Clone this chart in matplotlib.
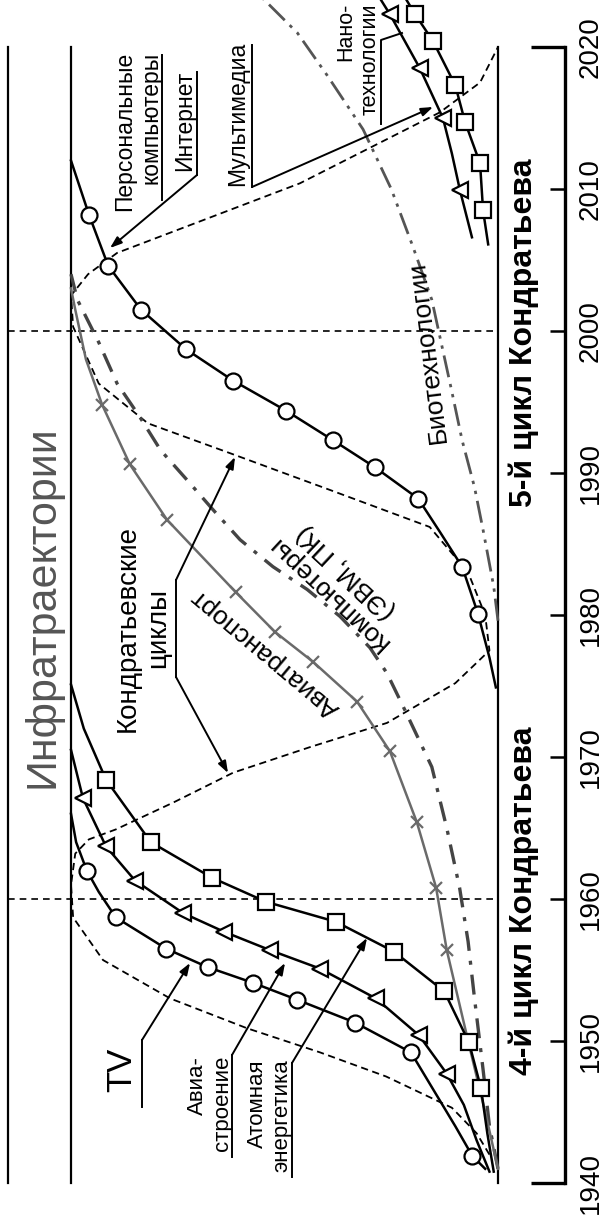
import matplotlib
matplotlib.use("Agg")
import matplotlib.pyplot as plt
from matplotlib import font_manager as fm

_names = {f.name for f in fm.fontManager.ttflist}
HAS_NARROW = 'Liberation Sans Narrow' in _names
plt.rcParams['font.family'] = ['Liberation Sans', 'DejaVu Sans']

# ---------------- data (year, level 0..1) ----------------
tick_years = [1940, 1950, 1960, 1970, 1980, 1990, 2000, 2010, 2020]
cycle_bounds = [1960, 2000]

tv_years = [1941.0, 1941.9, 1944.0, 1945.8, 1949.2, 1951.3, 1952.9, 1954.1, 1955.2, 1956.5, 1958.7, 1960.5, 1962.0, 1964.0, 1966.0]
tv_vals  = [0.03, 0.06, 0.10, 0.136, 0.204, 0.335, 0.47, 0.574, 0.68, 0.777, 0.895, 0.935, 0.963, 0.988, 1.0]
tv_marks = [1, 4, 5, 6, 7, 8, 9, 10, 12]

avia_years = [1940.8, 1943.0, 1945.5, 1947.7, 1950.4, 1953.0, 1955.1, 1956.4, 1957.7, 1959.0, 1961.3, 1963.7, 1967.1, 1970.5]
avia_vals  = [0.02, 0.05, 0.08, 0.12, 0.185, 0.286, 0.417, 0.534, 0.642, 0.737, 0.85, 0.918, 0.972, 1.0]
avia_marks = [3, 4, 5, 6, 7, 8, 9, 10, 11, 12]

atom_years = [1940.8, 1943.5, 1946.7, 1949.9, 1953.5, 1956.3, 1958.4, 1959.8, 1961.5, 1964.0, 1968.4, 1972.0, 1975.1]
atom_vals  = [0.01, 0.025, 0.04, 0.068, 0.126, 0.244, 0.38, 0.543, 0.67, 0.813, 0.918, 0.97, 1.0]
atom_marks = [2, 3, 4, 5, 6, 7, 8, 9, 10]

pk_years = [1974.9, 1977.0, 1980.1, 1983.4, 1985.8, 1988.2, 1990.4, 1992.3, 1994.4, 1996.5, 1998.7, 2001.5, 2004.6, 2008.2, 2012.0]
pk_vals  = [0.005, 0.02, 0.047, 0.084, 0.135, 0.187, 0.288, 0.386, 0.497, 0.62, 0.73, 0.836, 0.913, 0.958, 1.0]
pk_marks = [2, 3, 5, 6, 7, 8, 9, 10, 11, 12, 13]

kond_years = [1942.0, 1943.5, 1945.3, 1947.5, 1949.2, 1950.9, 1953.0, 1955.7, 1958.7, 1961.0, 1963.2, 1964.2, 1964.9,
              1966.8, 1968.9, 1970.7, 1972.4, 1975.2, 1977.5, 1980.0, 1983.0, 1986.2, 1988.8, 1991.4, 1993.5,
              1996.3, 2000.3, 2002.5, 2004.0, 2005.5, 2010.4, 2015.4, 2017.5, 2020.0]
kond_vals  = [0.02, 0.05, 0.108, 0.262, 0.417, 0.588, 0.768, 0.925, 0.995, 1.0, 0.99, 0.958, 0.895,
              0.76, 0.62, 0.44, 0.26, 0.10, 0.02, 0.03, 0.07, 0.16, 0.393, 0.628, 0.82,
              0.935, 0.995, 1.0, 0.96, 0.892, 0.464, 0.136, 0.042, 0.0]

airtr_years = [1941.0, 1945.0, 1950.0, 1956.4, 1960.8, 1965.4, 1970.4, 1973.9, 1976.7, 1978.8, 1981.6, 1986.7, 1990.6, 1994.8, 1998.0, 2001.5, 2003.0]
airtr_vals  = [0.0, 0.03, 0.07, 0.12, 0.145, 0.19, 0.253, 0.33, 0.433, 0.522, 0.614, 0.775, 0.862, 0.927, 0.965, 0.99, 1.0]
airtr_marks = [3, 4, 5, 6, 7, 8, 9, 10, 11, 12, 13]

comp_years = [1941.0, 1944.0, 1948.0, 1953.0, 1957.0, 1960.8, 1965.0, 1969.3, 1973.3, 1975.9, 1977.7, 1979.9,
              1981.8, 1983.4, 1985.3, 1987.5, 1989.5, 1991.6, 1994.0, 1996.3, 1999.2, 2002.2, 2004.0]
comp_vals  = [0.0, 0.02, 0.035, 0.055, 0.07, 0.09, 0.12, 0.155, 0.218, 0.26, 0.30, 0.37,
              0.447, 0.527, 0.604, 0.67, 0.728, 0.79, 0.84, 0.892, 0.935, 0.985, 1.0]

bio_years = [1979.6, 1982.0, 1986.0, 1989.0, 1992.3, 1996.0, 2002.2, 2006.0, 2010.0, 2014.2, 2018.0, 2021.0, 2023.4]
bio_vals  = [0.0, 0.01, 0.035, 0.055, 0.084, 0.11, 0.155, 0.20, 0.25, 0.316, 0.40, 0.47, 0.55]

nanoT_years = [2006.6, 2009.9, 2012.5, 2015.0, 2018.5, 2022.3, 2023.6]
nanoT_vals  = [0.061, 0.089, 0.108, 0.129, 0.183, 0.253, 0.28]
nanoT_marks = [1, 3, 4, 5]

nanoS_years = [2006.1, 2008.5, 2011.8, 2014.7, 2017.3, 2020.4, 2022.3, 2023.6]
nanoS_vals  = [0.023, 0.035, 0.042, 0.077, 0.10, 0.152, 0.194, 0.22]
nanoS_marks = [1, 2, 3, 4, 5, 6]

# ---------------- layout helpers (pixel -> data) ----------------
def vx(px):
    return (498.0 - px) / 427.0

def yr(py):
    return 1940.0 + (1183.0 - py) / 14.2

def P(px, py):
    return (vx(px), yr(py))

fig = plt.figure(figsize=(6.05, 12.2), dpi=100)
ax = fig.add_axes([0, 0, 1, 1])
ax.set_xlim(vx(0), vx(605))
ax.set_ylim(yr(1220), yr(0))
for s in ['left', 'top', 'bottom']:
    ax.spines[s].set_visible(False)
ax.set_xticks([])

# year axis on the right
ax.spines['right'].set_position(('data', vx(565)))
ax.spines['right'].set_bounds(tick_years[0], tick_years[-1])
ax.spines['right'].set_linewidth(2.4)
ax.yaxis.set_ticks_position('right')
ax.set_yticks(tick_years)
ax.tick_params(axis='y', direction='in', length=11, width=1.8, labelsize=20, pad=9)
for lab in ax.get_yticklabels():
    lab.set_rotation(90)
    lab.set_va('center')
    lab.set_ha('left')
for ty in (tick_years[0], tick_years[-1]):
    ax.plot([vx(531), vx(565)], [ty, ty], color='k', lw=2.4, solid_capstyle='butt')

# frame lines
top, bot = tick_years[-1], tick_years[0]
for px in (8, 71, 498):
    ax.plot([vx(px), vx(px)], [bot, top], color='k', lw=1.6)
for cy in cycle_bounds:
    ax.plot([vx(8), vx(498)], [cy, cy], color='k', lw=1.2, ls=(0, (4, 3)))

# ---------------- curves ----------------
ax.plot(kond_vals, kond_years, color='k', lw=1.3, ls=(0, (4, 2.5)), zorder=3)
ax.plot(bio_vals, bio_years, color='#555555', lw=2.0, ls=(0, (8, 2.5, 1.2, 2.5, 1.2, 2.5)), zorder=3)
ax.plot(comp_vals, comp_years, color='#444444', lw=2.4, ls=(0, (6, 3, 1.2, 3)), zorder=3)
ax.plot(airtr_vals, airtr_years, color='#6a6a6a', lw=1.8, marker='x', ms=9, mew=1.6,
        markevery=airtr_marks, zorder=4)

mk = dict(color='k', lw=1.8, mfc='white', mec='k', mew=1.6, zorder=5)
ax.plot(tv_vals, tv_years, marker='o', ms=11.5, markevery=tv_marks, **mk)
ax.plot(avia_vals, avia_years, marker='<', ms=12, markevery=avia_marks, **mk)
ax.plot(atom_vals, atom_years, marker='s', ms=11, markevery=atom_marks, **mk)
ax.plot(pk_vals, pk_years, marker='o', ms=11.5, markevery=pk_marks, **mk)
ax.plot(nanoT_vals, nanoT_years, marker='<', ms=12, markevery=nanoT_marks, **mk)
ax.plot(nanoS_vals, nanoS_years, marker='s', ms=11, markevery=nanoS_marks, **mk)

# ---------------- annotations ----------------
def line(*pts, **kw):
    xs = [vx(p[0]) for p in pts]
    ys = [yr(p[1]) for p in pts]
    ax.plot(xs, ys, color='k', lw=kw.get('lw', 1.4), zorder=6)

def arrow(p_from, p_to):
    ax.annotate('', xy=P(*p_to), xytext=P(*p_from),
                arrowprops=dict(arrowstyle='-|>,head_length=0.7,head_width=0.25', lw=1.4,
                                color='k', shrinkA=0, shrinkB=0), zorder=7)

def label(px, py, s, size, rot=90, ha='center', va='center', ma='center', **kw):
    ax.text(*P(px, py), s, fontsize=size, rotation=rot, ha=ha, va=va, multialignment=ma,
            zorder=8, **kw)

label(43, 607, 'Инфратраектории', 31, color='#555555')
if HAS_NARROW:
    cyc_kw = dict(family=['Liberation Sans Narrow', 'Liberation Sans'], fontweight='bold')
    cyc_size = 22
else:
    cyc_kw = dict(fontweight='bold')
    cyc_size = 23
label(524, 901, '4-й цикл Кондратьева', cyc_size, **cyc_kw)
label(524, 333, '5-й цикл Кондратьева', cyc_size, **cyc_kw)

# TV / aviation / atomic
label(122, 1070, 'TV', 25)
line((142, 1107), (142, 1040))
arrow((142, 1040), (190, 963))
label(210, 1056, 'Авиа-\nстроение', 16, va='top', ma='right')
line((232, 1157), (232, 1055))
arrow((232, 1055), (285, 963))
label(270, 1059, 'Атомная\nэнергетика', 16, va='top', ma='right')
line((292, 1177), (292, 1063))
arrow((292, 1063), (367, 938))

# Kondratiev cycles
label(143, 628, 'Кондратьевские\nциклы', 20)
line((176, 677), (176, 580))
arrow((176, 580), (235, 457))
arrow((176, 677), (228, 773))

label(265, 653, 'Авиатранспорт', 19, rot=140)
label(337, 582, 'Компьютеры\n(ЭВМ, ПК)', 19, rot=137)
label(428, 352, 'Биотехнологии', 19, rot=97)

# PC / Internet / Multimedia
label(138, 52, 'Персональные\nкомпьютеры', 16.5, va='top', ma='right')
line((162, 55), (162, 200))
label(185, 71, 'Интернет', 16.5, va='top')
line((197, 72), (197, 175))
arrow((197, 175), (110, 248))
label(238, 42, 'Мультимедиа', 16.5, va='top')
line((252, 45), (252, 187))
arrow((252, 187), (433, 107))

# Nano
label(358, 3, 'Нано-\nтехнологии', 15.5, va='top', ma='right')
line((381, 124), (381, 40), (402, 33))

fig.savefig('out.png', dpi=100)
